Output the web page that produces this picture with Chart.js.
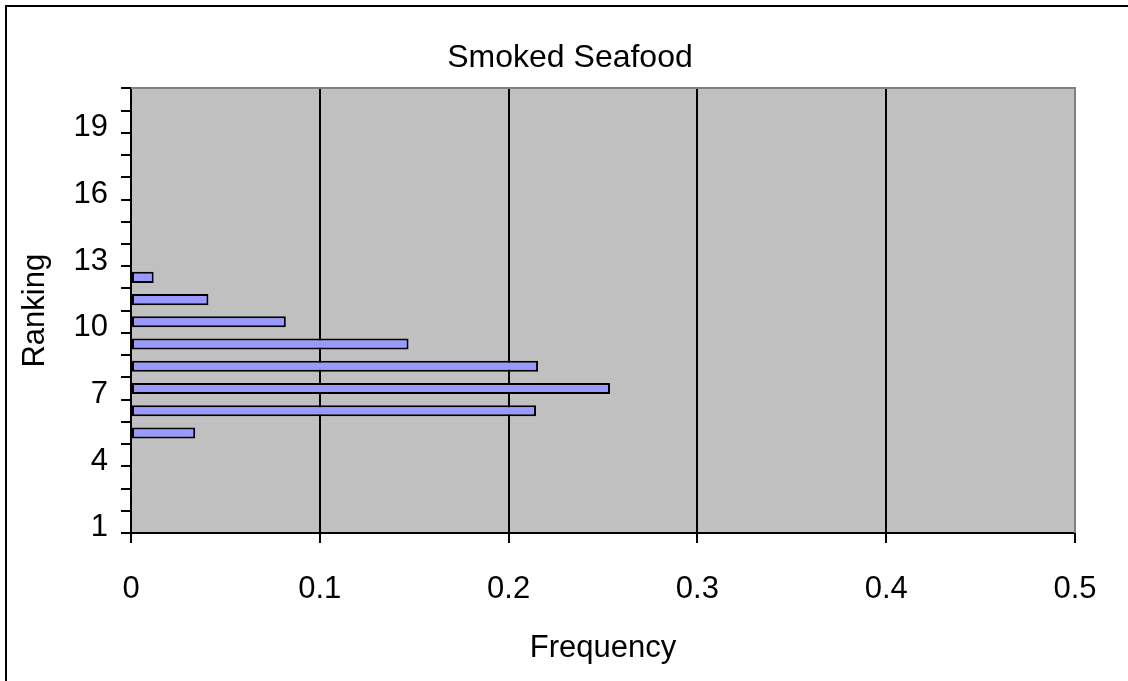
<!DOCTYPE html>
<html>
<head>
<meta charset="utf-8">
<title>Smoked Seafood</title>
<script src="https://cdn.jsdelivr.net/npm/chart.js@4.4.1/dist/chart.umd.min.js"></script>
<style>
	html, body { margin: 0; padding: 0; background: #fff; overflow: hidden; }
	#wrap { position: relative; width: 1128px; height: 681px; }
	#chart0 { position: absolute; left: 0; top: 0; }
	#frame { position: absolute; left: 5px; top: 5px; width: 1200px; height: 800px; border: 2px solid #000; pointer-events: none; }
</style>
</head>
<body>
<div id="wrap">
	<canvas id="chart0" width="1128" height="681"></canvas>
	<div id="frame"></div>
</div>
<script>
const chartTitle = "Smoked Seafood";
const rankings = ["1", "2", "3", "4", "5", "6", "7", "8", "9", "10", "11", "12", "13", "14", "15", "16", "17", "18", "19", "20"];
const frequency = [null, null, null, null, 0.034, 0.2145, 0.2537, 0.2156, 0.147, 0.082, 0.041, 0.012, null, null, null, null, null, null, null, null];
const xTicks = [0, 0.1, 0.2, 0.3, 0.4, 0.5];

const fontFamily = "'Liberation Sans', Arial, sans-serif";

// grey plot background plus the grey top / right edges
const plotArea = {
	id: "plotArea",
	beforeDraw(chart) {
		const a = chart.chartArea;
		const ctx = chart.ctx;
		ctx.save();
		ctx.fillStyle = "#C0C0C0";
		ctx.fillRect(a.left, a.top, a.right - a.left, a.bottom - a.top);
		ctx.restore();
	},
	afterDatasetsDraw(chart) {
		const a = chart.chartArea;
		const ctx = chart.ctx;
		ctx.save();
		ctx.strokeStyle = "#808080";
		ctx.lineWidth = 2;
		ctx.beginPath();
		ctx.moveTo(a.left, Math.round(a.top));
		ctx.lineTo(a.right, Math.round(a.top));
		ctx.lineTo(a.right, a.bottom);
		ctx.stroke();
		ctx.restore();
	}
};

function plotChart() {
	new Chart("chart0", {
		type: "bar",
		data: {
			labels: rankings,
			datasets: [
				{
					data: frequency,
					backgroundColor: "#9999FF",
					borderColor: "#000000",
					borderWidth: 2,
					borderSkipped: false,
					barPercentage: 0.5,
					categoryPercentage: 1
				}
			]
		},
		options: {
			indexAxis: "y",
			responsive: false,
			animation: false,
			devicePixelRatio: 1,
			layout: { padding: { left: 12, right: 0, top: 0, bottom: 0 } },
			plugins: {
				legend: { display: false },
				tooltip: { enabled: false },
				title: {
					display: true,
					text: chartTitle,
					color: "#000",
					font: { family: fontFamily, size: 32, weight: "normal" },
					padding: { top: 39, bottom: 11 }
				}
			},
			scales: {
				x: {
					type: "linear",
					min: xTicks[0],
					max: xTicks[xTicks.length - 1],
					afterBuildTicks: (scale) => { scale.ticks = xTicks.map(v => ({ value: v })); },
					afterFit: (scale) => { scale.height = 148; },
					grid: {
						color: (c) => (c.tick && c.tick.value === 0.5 ? "#808080" : "#000000"),
						tickColor: "#000000",
						lineWidth: 2,
						drawTicks: true,
						tickLength: 10
					},
					border: { display: true, color: "#000000", width: 2 },
					ticks: {
						color: "#000",
						padding: 28,
						font: { family: fontFamily, size: 31 },
						maxRotation: 0
					},
					title: {
						display: true,
						text: "Frequency",
						color: "#000",
						font: { family: fontFamily, size: 31 },
						padding: { top: 0, bottom: 14 }
					}
				},
				y: {
					type: "category",
					reverse: true,
					afterFit: (scale) => { scale.width = 119; },
					grid: {
						offset: true,
						drawOnChartArea: false,
						drawTicks: true,
						tickLength: 10,
						color: "#000000",
						lineWidth: 2
					},
					border: { display: true, color: "#000000", width: 2 },
					ticks: {
						autoSkip: false,
						color: "#000",
						padding: 13,
						labelOffset: 6,
						font: { family: fontFamily, size: 31 },
						callback: (val, index) => (index % 3 === 0 ? rankings[index] : "")
					},
					title: {
						display: true,
						text: "Ranking",
						color: "#000",
						font: { family: fontFamily, size: 31 },
						padding: { top: 5, bottom: 0 }
					}
				},
				// empty right-hand strip so the plot ends at the same place as the reference
				yRight: {
					type: "linear",
					position: "right",
					display: true,
					afterFit: (scale) => { scale.width = 53; },
					grid: { display: false },
					border: { display: false },
					ticks: { display: false }
				}
			}
		},
		plugins: [plotArea]
	});
}

plotChart();
</script>
</body>
</html>
